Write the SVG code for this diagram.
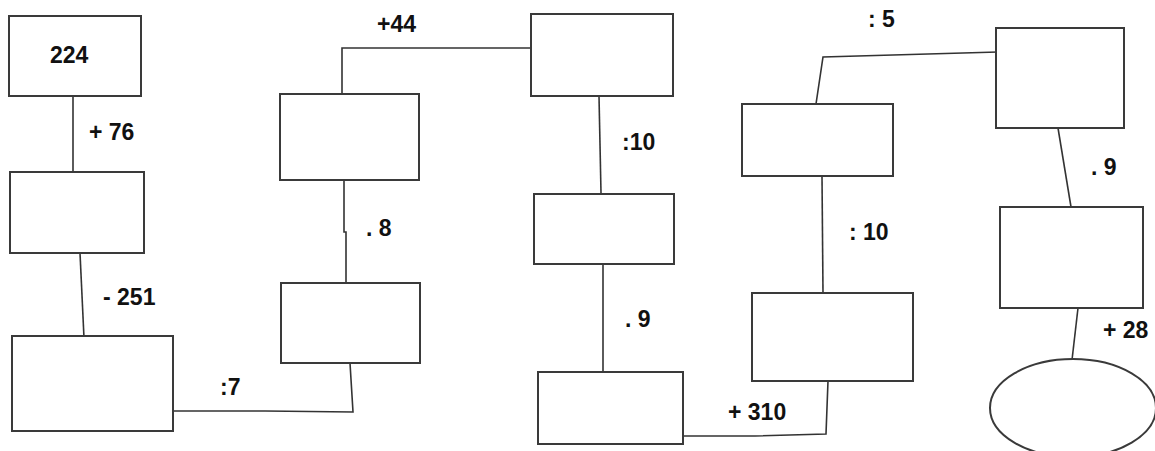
<svg xmlns="http://www.w3.org/2000/svg" width="1155" height="451" viewBox="0 0 1155 451">
<style>
.box{fill:#fff;stroke:#3a3a3a;stroke-width:2}
.con{fill:none;stroke:#333;stroke-width:1.6}
.lbl{font-family:"Liberation Sans",Arial,sans-serif;font-weight:bold;font-size:23px;fill:#111}
</style>
<rect width="1155" height="451" fill="#fff"/>
<g id="connectors">
<path class="con" d="M73,96 L73,173"/>
<path class="con" d="M80,253 L84,338"/>
<path class="con" d="M173,411 L265,411 L353,412 L350,363"/>
<path class="con" d="M346,283 L346,232 L344,232 L344,180"/>
<path class="con" d="M342,94 L342,48 L531,48"/>
<path class="con" d="M599,96 L601,193"/>
<path class="con" d="M603,264 L603,377"/>
<path class="con" d="M683,436 L755,436 L826,434 L828,381"/>
<path class="con" d="M823,293 L822,176"/>
<path class="con" d="M816,104 L823,57 L998,52"/>
<path class="con" d="M1058,128 L1072,213"/>
<path class="con" d="M1078,308 L1072,360"/>
</g>
<g id="n1"><rect class="box" x="9" y="16" width="132" height="80"/><text class="lbl" x="50" y="63">224</text></g>
<g id="n2"><rect class="box" x="10" y="172" width="134" height="81"/></g>
<g id="n3"><rect class="box" x="12" y="336" width="161" height="95"/></g>
<g id="n4"><rect class="box" x="281" y="283" width="139" height="80"/></g>
<g id="n5"><rect class="box" x="280" y="94" width="139" height="86"/></g>
<g id="n6"><rect class="box" x="531" y="14" width="142" height="82"/></g>
<g id="n7"><rect class="box" x="534" y="194" width="140" height="70"/></g>
<g id="n8"><rect class="box" x="538" y="372" width="145" height="72"/></g>
<g id="n9"><rect class="box" x="752" y="293" width="161" height="88"/></g>
<g id="n10"><rect class="box" x="742" y="104" width="151" height="72"/></g>
<g id="n11"><rect class="box" x="996" y="28" width="128" height="100"/></g>
<g id="n12"><rect class="box" x="1000" y="207" width="143" height="101"/></g>
<g id="n13"><ellipse class="box" cx="1073" cy="408" rx="83" ry="49"/></g>
<g id="labels">
<text class="lbl" x="89" y="140">+ 76</text>
<text class="lbl" x="103" y="305">- 251</text>
<text class="lbl" x="220" y="395">:7</text>
<text class="lbl" x="366" y="236">. 8</text>
<text class="lbl" x="377" y="32">+44</text>
<text class="lbl" x="622" y="150">:10</text>
<text class="lbl" x="625" y="327">. 9</text>
<text class="lbl" x="728" y="420">+ 310</text>
<text class="lbl" x="849" y="240">: 10</text>
<text class="lbl" x="868" y="27">: 5</text>
<text class="lbl" x="1091" y="175">. 9</text>
<text class="lbl" x="1103" y="338">+ 28</text>
</g>
</svg>
